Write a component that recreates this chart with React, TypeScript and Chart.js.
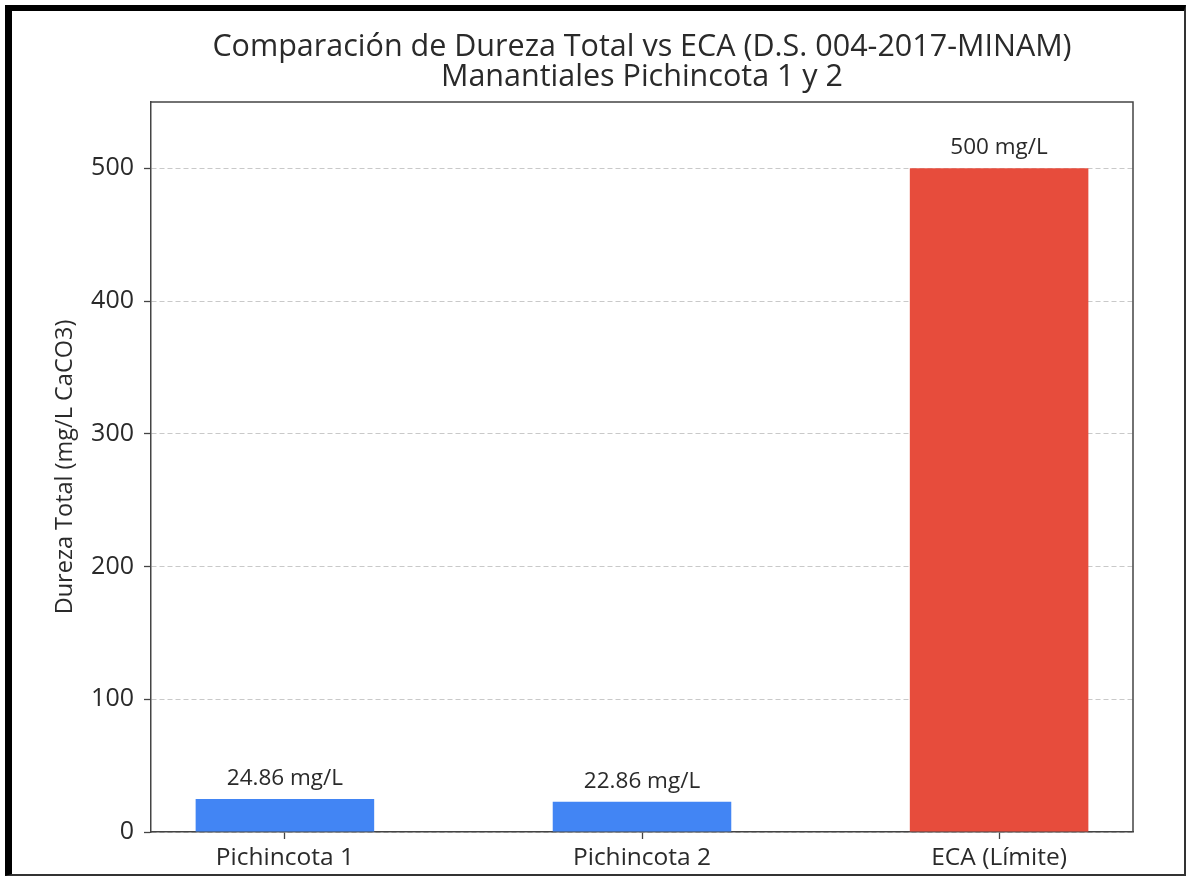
import React, { useEffect, useRef } from "react";
import { Chart, registerables } from "chart.js";

Chart.register(...registerables);

// ---- data ----
const categories = ["Pichincota 1", "Pichincota 2", "ECA (Límite)"];
const values = [24.86, 22.86, 500];
const barColors = ["#4285f4", "#4285f4", "#e74c3c"];
const yTicks = [0, 100, 200, 300, 400, 500];
const yMax = 550;
const titleLines = [
  "Comparación de Dureza Total vs ECA (D.S. 004-2017-MINAM)",
  "Manantiales Pichincota 1 y 2",
];
const yAxisTitle = "Dureza Total (mg/L CaCO3)";
const unit = "mg/L";

// ---- style ----
const FONT = '"Open Sans", sans-serif';
const SPINE = "#444444";
const TEXT = "#2a2a2a";
const BAR_WIDTH = 0.5;
const X_MARGIN = 0.05 * (categories.length - 1 + BAR_WIDTH);

const framePlugin = {
  id: "frameAndLabels",
  afterDatasetsDraw(chart: any) {
    const { ctx } = chart;
    const meta = chart.getDatasetMeta(0);
    ctx.save();
    ctx.font = `400 22.5px ${FONT}`;
    ctx.fillStyle = TEXT;
    ctx.textAlign = "center";
    ctx.textBaseline = "alphabetic";
    meta.data.forEach((bar: any, i: number) => {
      ctx.fillText(`${values[i]} ${unit}`, bar.x, bar.y - 14);
    });
    ctx.restore();
  },
  afterDraw(chart: any) {
    const { ctx, chartArea } = chart;
    ctx.save();
    ctx.strokeStyle = SPINE;
    ctx.lineWidth = 1.5;
    ctx.beginPath();
    ctx.moveTo(chartArea.left, chartArea.top);
    ctx.lineTo(chartArea.right, chartArea.top);
    ctx.lineTo(chartArea.right, chartArea.bottom);
    ctx.stroke();
    // title centred over the plot area
    const cx = (chartArea.left + chartArea.right) / 2;
    ctx.font = `400 30.5px ${FONT}`;
    ctx.fillStyle = TEXT;
    ctx.textAlign = "center";
    ctx.textBaseline = "alphabetic";
    ctx.fillText(titleLines[0], cx, chartArea.top - 46);
    ctx.fillText(titleLines[1], cx, chartArea.top - 16);
    ctx.restore();
  },
};

export default function App() {
  const ref = useRef<HTMLCanvasElement | null>(null);

  useEffect(() => {
    if (!ref.current) return;
    const chart = new Chart(ref.current, {
      type: "bar",
      data: {
        datasets: [
          {
            data: values.map((v, i) => ({ x: i, y: v })),
            backgroundColor: barColors,
            borderWidth: 0,
            categoryPercentage: 1,
            barPercentage: BAR_WIDTH,
          },
        ],
      },
      options: {
        animation: false,
        responsive: false,
        layout: { padding: { top: 102, right: 54, left: 0, bottom: 0 } },
        plugins: {
          legend: { display: false },
          title: { display: false },
          tooltip: { enabled: false },
        },
        scales: {
          x: {
            type: "linear",
            offset: false,
            min: -BAR_WIDTH / 2 - X_MARGIN,
            max: categories.length - 1 + BAR_WIDTH / 2 + X_MARGIN,
            afterBuildTicks: (s: any) => {
              s.ticks = categories.map((_, i) => ({ value: i }));
            },
            afterFit: (s: any) => {
              s.height = 44;
            },
            ticks: {
              callback: (v: any) => categories[Math.round(Number(v))] ?? "",
              font: { family: FONT, size: 24.5 },
              color: TEXT,
              padding: 4,
              maxRotation: 0,
              autoSkip: false,
            },
            grid: {
              offset: false,
              drawOnChartArea: false,
              drawTicks: true,
              tickLength: 7,
              tickColor: SPINE,
              tickWidth: 1.3,
            },
            border: { display: true, color: SPINE, width: 1.5 },
          },
          y: {
            type: "linear",
            min: 0,
            max: yMax,
            afterBuildTicks: (s: any) => {
              s.ticks = yTicks.map((v) => ({ value: v }));
            },
            afterFit: (s: any) => {
              s.width = 151;
            },
            ticks: {
              font: { family: FONT, size: 25 },
              color: TEXT,
              padding: 10,
            },
            grid: {
              color: "rgba(165,165,165,0.6)",
              lineWidth: 1,
              drawTicks: true,
              tickLength: 7,
              tickColor: SPINE,
              tickWidth: 1.3,
              tickBorderDash: [],
            },
            border: { display: true, color: SPINE, width: 1.5, dash: [5, 3] },
            title: {
              display: true,
              text: yAxisTitle,
              font: { family: FONT, size: 23.5 },
              color: TEXT,
              padding: { top: 51, bottom: 0 },
            },
          },
        },
      } as any,
      plugins: [framePlugin],
    });
    return () => chart.destroy();
  }, []);

  return (
    <div
      style={{
        position: "absolute",
        left: 0,
        top: 0,
        width: 1187,
        height: 876,
        background: "#ffffff",
        overflow: "hidden",
      }}
    >
      <div
        style={{
          position: "absolute",
          left: 5,
          top: 5,
          width: 1181,
          height: 871,
          boxSizing: "border-box",
          borderLeft: "7px solid #000",
          borderTop: "6px solid #000",
          borderRight: "2px solid #333",
          borderBottom: "2px solid #333",
        }}
      />
      <canvas
        ref={ref}
        width={1187}
        height={876}
        style={{ position: "absolute", left: 0, top: 0, width: 1187, height: 876 }}
      />
    </div>
  );
}
